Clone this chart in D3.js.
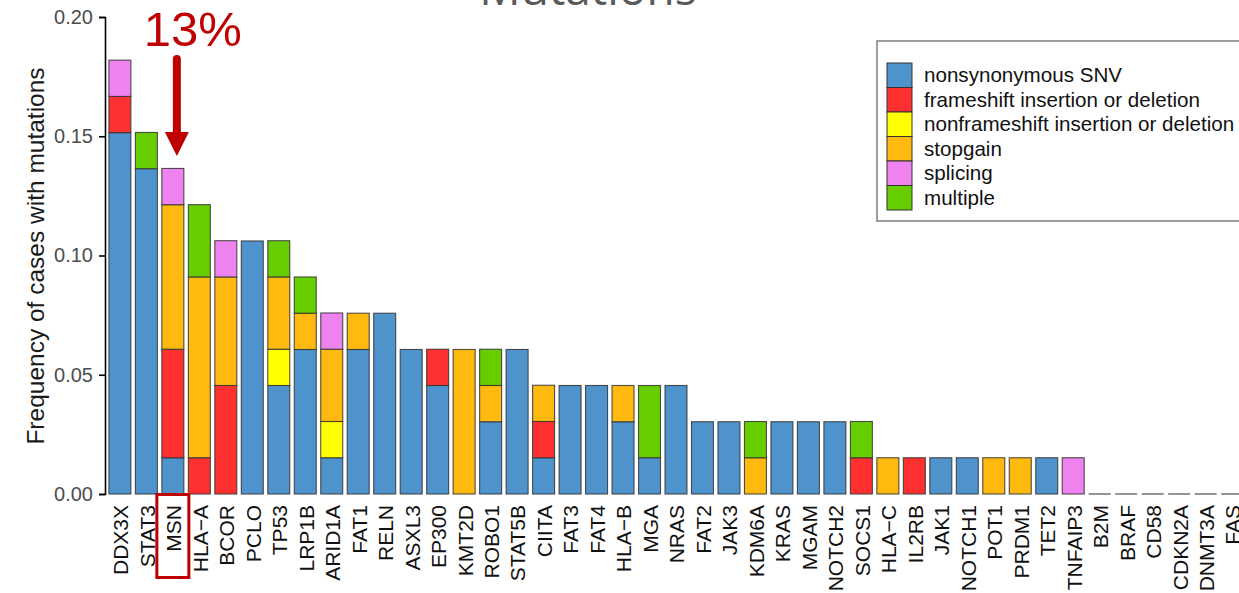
<!DOCTYPE html>
<html>
<head>
<meta charset="utf-8">
<script src="https://cdn.jsdelivr.net/npm/d3@7"></script>
<style>
  html, body { margin: 0; padding: 0; background: #fff; overflow: hidden; }
  svg { display: block; }
  text { font-family: "Liberation Sans", Arial, sans-serif; }
</style>
</head>
<body>
<svg id="chart" width="1239" height="593"></svg>
<script>
// Genes, ordered by overall mutation frequency
const genes = ["DDX3X","STAT3","MSN","HLA\u2212A","BCOR","PCLO","TP53","LRP1B","ARID1A","FAT1",
  "RELN","ASXL3","EP300","KMT2D","ROBO1","STAT5B","CIITA","FAT3","FAT4","HLA\u2212B",
  "MGA","NRAS","FAT2","JAK3","KDM6A","KRAS","MGAM","NOTCH2","SOCS1","HLA\u2212C",
  "IL2RB","JAK1","NOTCH1","POT1","PRDM1","TET2","TNFAIP3","B2M","BRAF","CD58",
  "CDKN2A","DNMT3A","FAS"];

// Frequency of cases per mutation class (one value per gene, same order)
const nonsynonymousSNV = [0.1515,0.1364,0.0152,0,0,0.1061,0.0455,0.0606,0.0152,0.0606,
  0.0758,0.0606,0.0455,0,0.0303,0.0606,0.0152,0.0455,0.0455,0.0303,
  0.0152,0.0455,0.0303,0.0303,0,0.0303,0.0303,0.0303,0,0,
  0,0.0152,0.0152,0,0,0.0152,0,0,0,0,
  0,0,0];
const frameshiftIndel = [0.0152,0,0.0455,0.0152,0.0455,0,0,0,0,0,
  0,0,0.0152,0,0,0,0.0152,0,0,0,
  0,0,0,0,0,0,0,0,0.0152,0,
  0.0152,0,0,0,0,0,0,0,0,0,
  0,0,0];
const nonframeshiftIndel = [0,0,0,0,0,0,0.0152,0,0.0152,0,
  0,0,0,0,0,0,0,0,0,0,
  0,0,0,0,0,0,0,0,0,0,
  0,0,0,0,0,0,0,0,0,0,
  0,0,0];
const stopgain = [0,0,0.0606,0.0758,0.0455,0,0.0303,0.0152,0.0303,0.0152,
  0,0,0,0.0606,0.0152,0,0.0152,0,0,0.0152,
  0,0,0,0,0.0152,0,0,0,0,0.0152,
  0,0,0,0.0152,0.0152,0,0,0,0,0,
  0,0,0];
const splicing = [0.0152,0,0.0152,0,0.0152,0,0,0,0.0152,0,
  0,0,0,0,0,0,0,0,0,0,
  0,0,0,0,0,0,0,0,0,0,
  0,0,0,0,0,0,0.0152,0,0,0,
  0,0,0];
const multiple = [0,0.0152,0,0.0303,0,0,0.0152,0.0152,0,0,
  0,0,0,0,0.0152,0,0,0,0,0,
  0.0303,0,0,0,0.0152,0,0,0,0.0152,0,
  0,0,0,0,0,0,0,0,0,0,
  0,0,0];

const classNames = ["nonsynonymous SNV","frameshift insertion or deletion",
  "nonframeshift insertion or deletion","stopgain","splicing","multiple"];
const classColors = ["#4F93CD","#FF3030","#FFFF00","#FFB90F","#EE82EE","#66CD00"];
const yTicks = [0, 0.05, 0.10, 0.15, 0.20];

const highlightGene = "MSN";
const highlightLabel = "13%";

// ---- build table for stacking ----
const seriesArrays = [nonsynonymousSNV, frameshiftIndel, nonframeshiftIndel, stopgain, splicing, multiple];
const rows = genes.map((g, i) => {
  const r = { gene: g };
  classNames.forEach((c, k) => { r[c] = seriesArrays[k][i]; });
  return r;
});
const stacked = d3.stack().keys(classNames)(rows);

const svg = d3.select("#chart");

// ---- scales ----
const x = d3.scaleBand()
  .domain(genes)
  .range([104, 1248])
  .paddingInner(0.17)
  .paddingOuter(0.185);
const y = d3.scaleLinear().domain([0, 0.20]).range([494, 17]);
const bw = x.bandwidth();

// ---- title (partly above the canvas) ----
svg.append("text")
  .attr("x", 588).attr("y", 5)
  .attr("text-anchor", "middle")
  .style("font-family", "'Open Sans', 'Noto Sans', sans-serif")
  .style("font-size", "46px")
  .attr("fill", "#595959")
  .text("Mutations");

// ---- bars ----
const color = d3.scaleOrdinal().domain(classNames).range(classColors);
svg.append("g").selectAll("g")
  .data(stacked)
  .join("g")
  .attr("fill", d => color(d.key))
  .selectAll("rect")
  .data(d => d.filter(s => s[1] - s[0] > 0))
  .join("rect")
  .attr("x", d => x(d.data.gene))
  .attr("y", d => y(d[1]))
  .attr("width", bw)
  .attr("height", d => y(d[0]) - y(d[1]))
  .attr("stroke", "#333")
  .attr("stroke-opacity", 0.85)
  .attr("stroke-width", 1.1);

// genes with no mutations show a flat bar outline
const totals = rows.map(r => d3.sum(classNames, c => r[c]));
svg.append("g").selectAll("line")
  .data(genes.filter((g, i) => totals[i] === 0))
  .join("line")
  .attr("x1", g => x(g)).attr("x2", g => x(g) + bw)
  .attr("y1", y(0)).attr("y2", y(0))
  .attr("stroke", "#8a8a8a")
  .attr("stroke-width", 1.8);

// ---- y axis ----
const yAxis = svg.append("g")
  .attr("transform", "translate(105,0)")
  .call(d3.axisLeft(y).tickValues(yTicks).tickFormat(d3.format(".2f")).tickSize(6).tickPadding(6));
yAxis.select(".domain").attr("stroke", "#000").attr("stroke-width", 1.6);
yAxis.selectAll(".tick line").attr("stroke", "#000").attr("stroke-width", 1.6);
yAxis.selectAll(".tick text")
  .attr("fill", "#4D4D4D")
  .style("font-family", "'Liberation Sans', Arial, sans-serif")
  .style("font-size", "20px");

svg.append("text")
  .attr("transform", "translate(44,256) rotate(-90)")
  .attr("text-anchor", "middle")
  .attr("fill", "#1a1a1a")
  .style("font-size", "24.5px")
  .text("Frequency of cases with mutations");

// ---- x labels (rotated) ----
svg.append("g").selectAll("text")
  .data(genes)
  .join("text")
  .attr("transform", g => `translate(${x(g) + bw / 2 + 1},505) rotate(-90)`)
  .attr("text-anchor", "end")
  .attr("dy", "0.35em")
  .attr("fill", "#111")
  .style("font-size", "21px")
  .text(g => g);

// ---- legend ----
const legend = svg.append("g").attr("transform", "translate(877,41)");
legend.append("rect")
  .attr("x", 0).attr("y", 0)
  .attr("width", 400).attr("height", 180)
  .attr("fill", "#fff")
  .attr("stroke", "#7f7f7f")
  .attr("stroke-width", 1.5);
const keyH = 24.5;
const items = legend.selectAll("g.item")
  .data(classNames)
  .join("g")
  .attr("class", "item")
  .attr("transform", (d, i) => `translate(10,${22 + i * keyH})`);
items.append("rect")
  .attr("width", 25).attr("height", keyH)
  .attr("fill", d => color(d))
  .attr("stroke", "#333")
  .attr("stroke-width", 1);
items.append("text")
  .attr("x", 37).attr("y", keyH / 2)
  .attr("dy", "0.35em")
  .attr("fill", "#111")
  .style("font-size", "20.6px")
  .text(d => d);

// ---- highlight annotation ----
const hx = x(highlightGene) + bw / 2;
const red = "#C00000";
svg.append("text")
  .attr("x", hx + 20).attr("y", 46)
  .attr("text-anchor", "middle")
  .attr("fill", red)
  .style("font-size", "49px")
  .text(highlightLabel);
svg.append("line")
  .attr("x1", hx + 4).attr("x2", hx + 4)
  .attr("y1", 59).attr("y2", 134)
  .attr("stroke", red)
  .attr("stroke-width", 8)
  .attr("stroke-linecap", "round");
svg.append("path")
  .attr("d", `M${hx + 4 - 12},132 L${hx + 4 + 12},132 L${hx + 4},156 Z`)
  .attr("fill", red);
svg.append("rect")
  .attr("x", hx - 16).attr("y", 494.5)
  .attr("width", 32).attr("height", 83)
  .attr("fill", "none")
  .attr("stroke", red)
  .attr("stroke-width", 3);
</script>
</body>
</html>
